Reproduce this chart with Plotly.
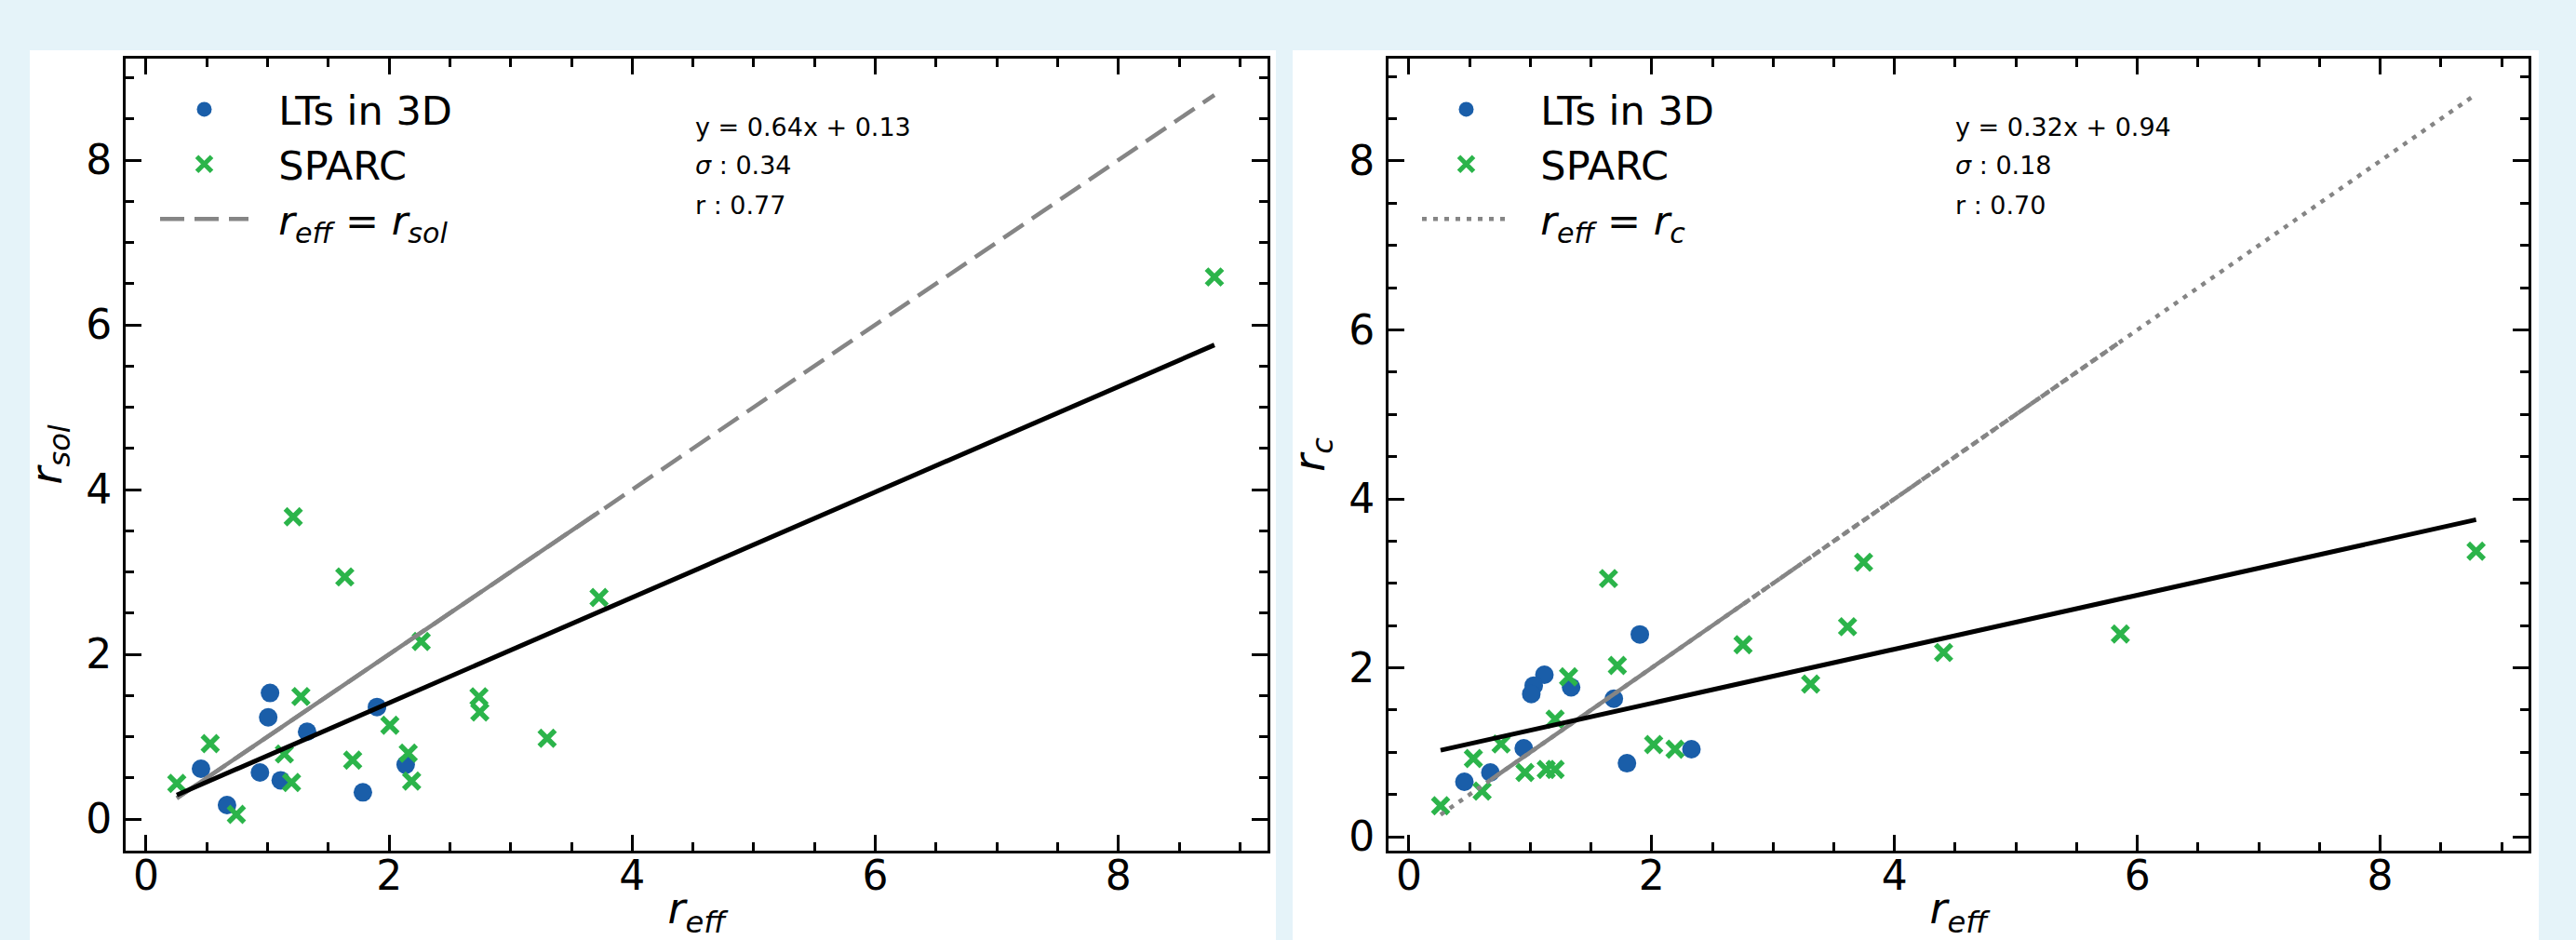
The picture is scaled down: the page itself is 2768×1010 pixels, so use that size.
import plotly.graph_objects as go

# ---------------- data ----------------
# Left panel: r_eff vs r_sol
lt_reff_L = [1.02, 1.005, 1.325, 1.90, 0.452, 0.937, 1.108, 0.666, 1.784, 2.136]
lt_rsol_L = [1.53, 1.235, 1.06, 1.36, 0.61, 0.565, 0.47, 0.17, 0.324, 0.66]
sp_reff_L = [2.264, 1.274, 0.528, 0.253, 1.138, 1.197, 0.743, 1.70, 2.006, 2.157,
             2.185, 2.739, 2.746, 3.30, 1.211, 1.635, 3.727, 8.79]
sp_rsol_L = [2.155, 1.488, 0.915, 0.433, 0.79, 0.444, 0.056, 0.715, 1.138, 0.80,
             0.46, 1.484, 1.30, 0.98, 3.67, 2.94, 2.69, 6.58]

# Right panel: r_eff vs r_c
lt_reff_R = [1.902, 1.116, 1.028, 1.008, 1.336, 1.688, 0.946, 0.671, 0.457, 1.796, 2.327]
lt_rc_R = [2.395, 1.917, 1.789, 1.69, 1.77, 1.634, 1.047, 0.76, 0.65, 0.87, 1.036]
sp_reff_R = [1.644, 1.717, 1.315, 1.204, 0.759, 0.531, 0.603, 0.261, 0.956, 1.131,
             1.204, 2.016, 2.192, 2.752, 3.309, 3.613, 3.745, 4.404, 5.86, 8.79]
sp_rc_R = [3.056, 2.027, 1.892, 1.392, 1.098, 0.926, 0.54, 0.367, 0.76, 0.797,
           0.797, 1.091, 1.036, 2.273, 1.807, 2.486, 3.25, 2.18, 2.40, 3.38]

fit_L = [0.64, 0.13]   # slope, intercept
fit_R = [0.32, 0.94]
stats_L = ["y = 0.64x + 0.13", "<i>σ</i> : 0.34", "r : 0.77"]
stats_R = ["y = 0.32x + 0.94", "<i>σ</i> : 0.18", "r : 0.70"]

x_ticks = [0, 2, 4, 6, 8]
y_ticks = [0, 2, 4, 6, 8]

# ---------------- style ----------------
W, H = 2768, 1010
BLUE = "#1a5ea9"
GREEN = "#2bb44a"
GRAY = "#858585"
FONT = "DejaVu Sans"
PAD = "\u00a0\u00a0"   # extra gap between legend symbol and label


def px_x(p):
    return p / W


def px_y(p):
    return 1 - p / H


fig = go.Figure()


def add_panel(xa, ya, lt_x, lt_y, sp_x, sp_y, fit, ident_dash, legend, name_ident,
              solid_span, extra_dash_span=None):
    fig.add_trace(go.Scatter(
        x=lt_x, y=lt_y, mode="markers", name=PAD + "LTs in 3D", xaxis=xa, yaxis=ya,
        marker=dict(symbol="circle", size=20, color=BLUE), legend=legend, legendrank=1))
    fig.add_trace(go.Scatter(
        x=sp_x, y=sp_y, mode="markers", name=PAD + "SPARC", xaxis=xa, yaxis=ya,
        marker=dict(symbol="x-thin", size=17, color=GREEN, line=dict(color=GREEN, width=5.5)),
        legend=legend, legendrank=2))
    allx = sorted(lt_x + sp_x)
    xmin, xmax = allx[0], allx[-1]
    # identity line (dashed / dotted)
    fig.add_trace(go.Scatter(
        x=[xmin, xmax], y=[xmin, xmax], mode="lines", name=PAD + name_ident,
        xaxis=xa, yaxis=ya,
        line=dict(color=GRAY, width=4.5, dash=ident_dash), legend=legend, legendrank=3))
    # solid-looking part where the line overlapped itself
    fig.add_trace(go.Scatter(
        x=solid_span, y=solid_span, mode="lines", showlegend=False, xaxis=xa, yaxis=ya,
        line=dict(color=GRAY, width=4.5), hoverinfo="skip"))
    if extra_dash_span is not None:
        fig.add_trace(go.Scatter(
            x=extra_dash_span, y=extra_dash_span, mode="lines", showlegend=False,
            xaxis=xa, yaxis=ya, line=dict(color=GRAY, width=4.5, dash="9px,4px"),
            hoverinfo="skip"))
    # linear fit
    fx = [xmin, xmax]
    fy = [fit[0] * v + fit[1] for v in fx]
    fig.add_trace(go.Scatter(
        x=fx, y=fy, mode="lines", showlegend=False, xaxis=xa, yaxis=ya,
        line=dict(color="black", width=5), hoverinfo="skip"))


allL = sorted(lt_reff_L + sp_reff_L)
allR = sorted(lt_reff_R + sp_reff_R)
add_panel("x", "y", lt_reff_L, lt_rsol_L, sp_reff_L, sp_rsol_L, fit_L, "26px,11px",
          "legend", "<i>r<sub>eff</sub></i> = <i>r<sub>sol</sub></i>",
          solid_span=[allL[0], allL[-2]])
add_panel("x2", "y2", lt_reff_R, lt_rc_R, sp_reff_R, sp_rc_R, fit_R, "5px,7px",
          "legend2", "<i>r<sub>eff</sub></i> = <i>r<sub>c</sub></i>",
          solid_span=[allR[4], sp_reff_R[13]],
          extra_dash_span=[sp_reff_R[13], allR[-2]])

axis_common = dict(
    showline=True, linecolor="black", linewidth=3, mirror="ticks",
    ticks="inside", ticklen=17, tickwidth=3, tickcolor="black",
    showgrid=False, zeroline=False,
    tickfont=dict(family=FONT, size=44, color="black"),
    minor=dict(dtick=0.5, tick0=0, ticks="inside", ticklen=9, tickwidth=2.5,
               tickcolor="black", showgrid=False),
    automargin=False,
)

xL = (px_x(135), px_x(1362))
xR = (px_x(1492), px_x(2717))
yD = (px_y(914), px_y(62.7))

title_font = dict(family=FONT, size=46, color="black")
leg_font = dict(family=FONT, size=43, color="black")

fig.update_layout(
    width=W, height=H, margin=dict(l=0, r=0, t=0, b=0),
    paper_bgcolor="#e5f3f9", plot_bgcolor="white",
    showlegend=True,
    xaxis=dict(domain=list(xL), range=[-0.168, 9.227], tickvals=x_ticks, anchor="y",
               title=dict(text="<i>r<sub>eff</sub></i>", font=title_font, standoff=20),
               ticklabelstandoff=-14, **axis_common),
    yaxis=dict(domain=list(yD), range=[-0.384, 9.235], tickvals=y_ticks, anchor="x",
               title=dict(text="<i>r<sub>sol</sub></i>", font=title_font, standoff=12),
               ticklabelstandoff=3, **axis_common),
    xaxis2=dict(domain=list(xR), range=[-0.168, 9.222], tickvals=x_ticks, anchor="y2",
                title=dict(text="<i>r<sub>eff</sub></i>", font=title_font, standoff=20),
                ticklabelstandoff=-14, **axis_common),
    yaxis2=dict(domain=list(yD), range=[-0.165, 9.215], tickvals=y_ticks, anchor="x2",
                title=dict(text="<i>r<sub>c</sub></i>", font=title_font, standoff=12),
                ticklabelstandoff=3, **axis_common),
    legend=dict(x=px_x(167), y=px_y(83), xanchor="left", yanchor="top",
                bgcolor="rgba(0,0,0,0)", font=leg_font, itemwidth=95, tracegroupgap=0),
    legend2=dict(x=px_x(1523), y=px_y(83), xanchor="left", yanchor="top",
                 bgcolor="rgba(0,0,0,0)", font=leg_font, itemwidth=95, tracegroupgap=0),
    shapes=[
        dict(type="rect", xref="paper", yref="paper", x0=px_x(32), x1=px_x(1371),
             y0=0, y1=px_y(54), fillcolor="white", line=dict(width=0), layer="below"),
        dict(type="rect", xref="paper", yref="paper", x0=px_x(1389), x1=px_x(2728),
             y0=0, y1=px_y(54), fillcolor="white", line=dict(width=0), layer="below"),
    ],
)

ann_y = [0.913, 0.8646, 0.8152]
for i, t in enumerate(stats_L):
    fig.add_annotation(text=t, xref="x domain", yref="y domain", x=0.497, y=ann_y[i],
                       xanchor="left", yanchor="middle", showarrow=False,
                       font=dict(family=FONT, size=27, color="black"))
for i, t in enumerate(stats_R):
    fig.add_annotation(text=t, xref="x2 domain", yref="y2 domain", x=0.4955, y=ann_y[i],
                       xanchor="left", yanchor="middle", showarrow=False,
                       font=dict(family=FONT, size=27, color="black"))

fig.write_html("out.html")
